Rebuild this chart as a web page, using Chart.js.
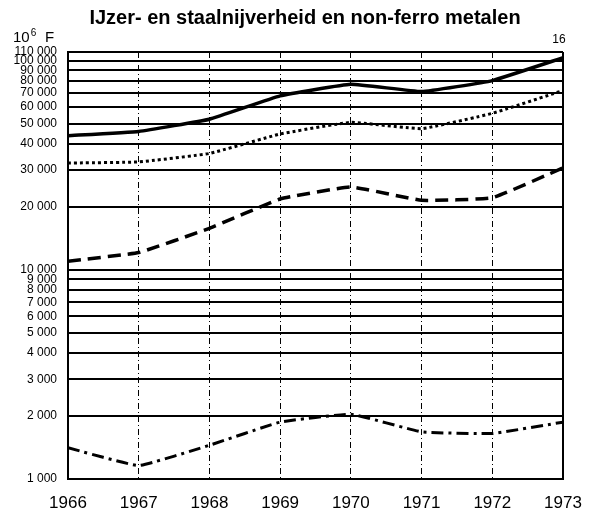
<!DOCTYPE html>
<html><head><meta charset="utf-8">
<script src="https://cdn.jsdelivr.net/npm/chart.js@4/dist/chart.umd.min.js"></script>
<style>html,body{margin:0;padding:0;background:#fff}#wrap{width:599px;height:512px;position:relative}</style>
</head><body><div id="wrap"><canvas id="c" width="599" height="512"></canvas></div>
<script>
const years = [1966, 1967, 1968, 1969, 1970, 1971, 1972, 1973];
const seriesSolid = [43800, 45900, 52500, 67900, 77200, 71200, 80300, 103300];
const seriesDotted = [32400, 32800, 36000, 44600, 50700, 47300, 56000, 72000];
const seriesDashed = [11000, 12100, 15800, 21800, 24900, 21500, 22100, 30700];
const seriesDashDot = [1410, 1160, 1450, 1870, 2040, 1680, 1650, 1870];
const yTicks = [1000, 2000, 3000, 4000, 5000, 6000, 7000, 8000, 9000, 10000, 20000, 30000, 40000, 50000, 60000, 70000, 80000, 90000, 100000, 110000];
const titleText = 'IJzer- en staalnijverheid en non-ferro metalen';
const unitBase = '10', unitExp = '6', unitRest = 'F';
const pageNumber = '16';

const FONT = '"Liberation Sans", Arial, Helvetica, sans-serif';
Chart.defaults.font.family = FONT;
Chart.defaults.color = '#000';

function pts(arr) { return years.map((y, i) => ({ x: y, y: arr[i] })); }
function fmt(v) { return String(v).replace(/\B(?=(\d{3})+(?!\d))/g, ' '); }

const textPlugin = {
  id: 'texts',
  afterDraw(chart) {
    const ctx = chart.ctx;
    ctx.save();
    ctx.fillStyle = '#000';
    ctx.textBaseline = 'alphabetic';
    ctx.textAlign = 'center';
    ctx.font = 'bold 20px ' + FONT;
    ctx.fillText(titleText, 305, 24);
    ctx.textAlign = 'left';
    ctx.font = '15px ' + FONT;
    ctx.fillText(unitBase, 13, 42);
    let w = ctx.measureText(unitBase).width;
    ctx.font = '10px ' + FONT;
    ctx.fillText(unitExp, 13 + w + 1, 36);
    ctx.font = '15px ' + FONT;
    ctx.fillText(unitRest, 45, 42);
    ctx.textAlign = 'center';
    ctx.font = '12px ' + FONT;
    ctx.fillText(pageNumber, 559, 43);
    ctx.restore();
  }
};

new Chart(document.getElementById('c'), {
  type: 'line',
  data: {
    datasets: [
      { data: pts(seriesSolid), borderColor: '#000', borderWidth: 3.5, pointRadius: 0, tension: 0.1 },
      { data: pts(seriesDotted), borderColor: '#000', borderWidth: 3, borderDash: [3, 3], pointRadius: 0, tension: 0.1 },
      { data: pts(seriesDashed), borderColor: '#000', borderWidth: 3.5, borderDash: [13, 7], pointRadius: 0, tension: 0.1 },
      { data: pts(seriesDashDot), borderColor: '#000', borderWidth: 3, borderDash: [12, 5, 3, 5], pointRadius: 0, tension: 0.1 }
    ]
  },
  options: {
    responsive: false,
    animation: false,
    devicePixelRatio: 1,
    layout: { padding: { top: 52, right: 36, left: 0, bottom: 0 } },
    plugins: { legend: { display: false }, tooltip: { enabled: false }, title: { display: false } },
    scales: {
      x: {
        type: 'linear', min: 1966, max: 1973,
        afterFit(s) { s.height = 33; },
        ticks: { stepSize: 1, callback: v => String(v), font: { size: 17 }, color: '#000', padding: 14, maxRotation: 0 },
        grid: {
          color: '#000', drawTicks: false,
          lineWidth: c => (c.tick && c.tick.value === 1973) ? 2 : 1
        },
        border: {
          display: true, color: '#000', width: 2,
          dash: c => (c.tick && c.tick.value > 1966 && c.tick.value < 1973) ? [6, 3, 1, 3] : []
        }
      },
      y: {
        type: 'logarithmic', min: 1000, max: 110000,
        afterFit(s) { s.width = 68; },
        afterBuildTicks(s) { s.ticks = yTicks.map(v => ({ value: v })); },
        ticks: { autoSkip: false, callback: v => fmt(v), font: { size: 12 }, color: '#000', padding: 11 },
        grid: { color: '#000', lineWidth: 2, drawTicks: false },
        border: { display: true, color: '#000', width: 2 }
      }
    }
  },
  plugins: [textPlugin]
});
</script>
</body></html>
